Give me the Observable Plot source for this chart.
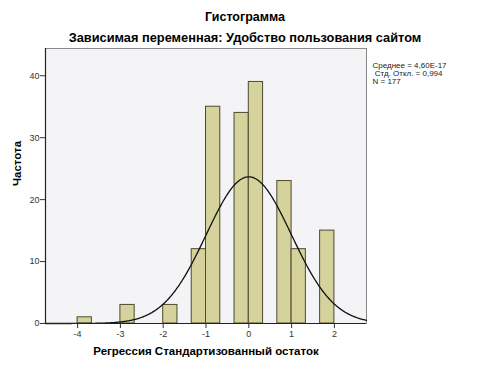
<!DOCTYPE html>
<html>
<head>
<meta charset="utf-8">
<script src="https://cdn.jsdelivr.net/npm/d3@7"></script>
<script src="https://cdn.jsdelivr.net/npm/@observablehq/plot@0.6"></script>
<style>
  html, body { margin: 0; padding: 0; background: #fff; }
  #chart { width: 489px; height: 366px; }
  svg { font-family: "Liberation Sans", Arial, sans-serif; }
</style>
</head>
<body>
<div id="chart"></div>
<script>
// Data
const binStart = [-4, -3, -2, -4/3, -1, -1/3, 0, 2/3, 1, 5/3];
const binWidth = 1/3;
const counts = [1, 3, 3, 12, 35, 34, 39, 23, 12, 15];
const xTicks = [-4, -3, -2, -1, 0, 1, 2];
const yTicks = [0, 10, 20, 30, 40];
const statMean = 4.60e-17;
const statSd = 0.994;
const statN = 177;
const title = "Гистограмма";
const subtitle = "Зависимая переменная: Удобство пользования сайтом";
const xLabel = "Регрессия Стандартизованный остаток";
const yLabel = "Частота";
const statLines = ["Среднее = 4,60E-17", " Стд. Откл. = 0,994", "N = 177"];

const xDomain = [-4.75, 2.75];
const yDomain = [0, 44.4];

const bars = binStart.map((s, i) => ({x1: s, x2: s + binWidth, y: counts[i]}));

// normal curve implied by the stated mean, sd and N
const curve = d3.range(xDomain[0], xDomain[1] + 1e-9, 0.02).map(x => ({
  x,
  y: statN * binWidth * Math.exp(-0.5 * ((x - statMean) / statSd) ** 2) / (statSd * Math.sqrt(2 * Math.PI))
}));

const chart = Plot.plot({
  width: 489,
  height: 366,
  marginLeft: 45,
  marginRight: 123,
  marginTop: 48,
  marginBottom: 43,
  style: {background: "#fff", fontFamily: "'Liberation Sans', Arial, sans-serif"},
  x: {domain: xDomain},
  y: {domain: yDomain},
  marks: [
    Plot.frame({fill: "#f4f4f6", stroke: "#8a8a8a", strokeWidth: 1}),
    Plot.rectY(bars, {x1: "x1", x2: "x2", y: "y", fill: "#d6d29c", stroke: "#4a4a30", strokeWidth: 1}),
    Plot.line(curve, {x: "x", y: "y", stroke: "#111", strokeWidth: 1.3}),
    Plot.ruleY([yDomain[0]], {stroke: "#222", strokeWidth: 1.2}),
    Plot.ruleX([xDomain[0]], {stroke: "#222", strokeWidth: 1.2}),
    Plot.axisX({ticks: xTicks, tickSize: 5, tickPadding: 2, fontSize: 9, color: "#333", label: null,
      tickFormat: d => (d < 0 ? "-" + Math.abs(d) : String(d))}),
    Plot.axisY({ticks: yTicks, tickSize: 5, tickPadding: 1, fontSize: 9, color: "#333", label: null}),
    Plot.text([title], {frameAnchor: "top", dx: 39, dy: -32, fontSize: 12.5, fontWeight: "bold", fill: "#000", lineAnchor: "middle"}),
    Plot.text([subtitle], {frameAnchor: "top", dx: 39, dy: -11, fontSize: 12.8, fontWeight: "bold", fill: "#000", lineAnchor: "middle"}),
    Plot.text([xLabel], {frameAnchor: "bottom", dy: 28, fontSize: 11.5, fontWeight: "bold", fill: "#000", lineAnchor: "middle"}),
    Plot.text([yLabel], {frameAnchor: "left", dx: -28, dy: 0, rotate: -90, fontSize: 11.5, fontWeight: "bold", fill: "#000", lineAnchor: "middle"}),
    Plot.text([statLines.join("\n")], {frameAnchor: "top-right", dx: 6, dy: 14, textAnchor: "start", lineAnchor: "top", lineHeight: 1.0, fontSize: 8, fill: "#222"})
  ]
});
document.getElementById("chart").appendChild(chart);
</script>
</body>
</html>
